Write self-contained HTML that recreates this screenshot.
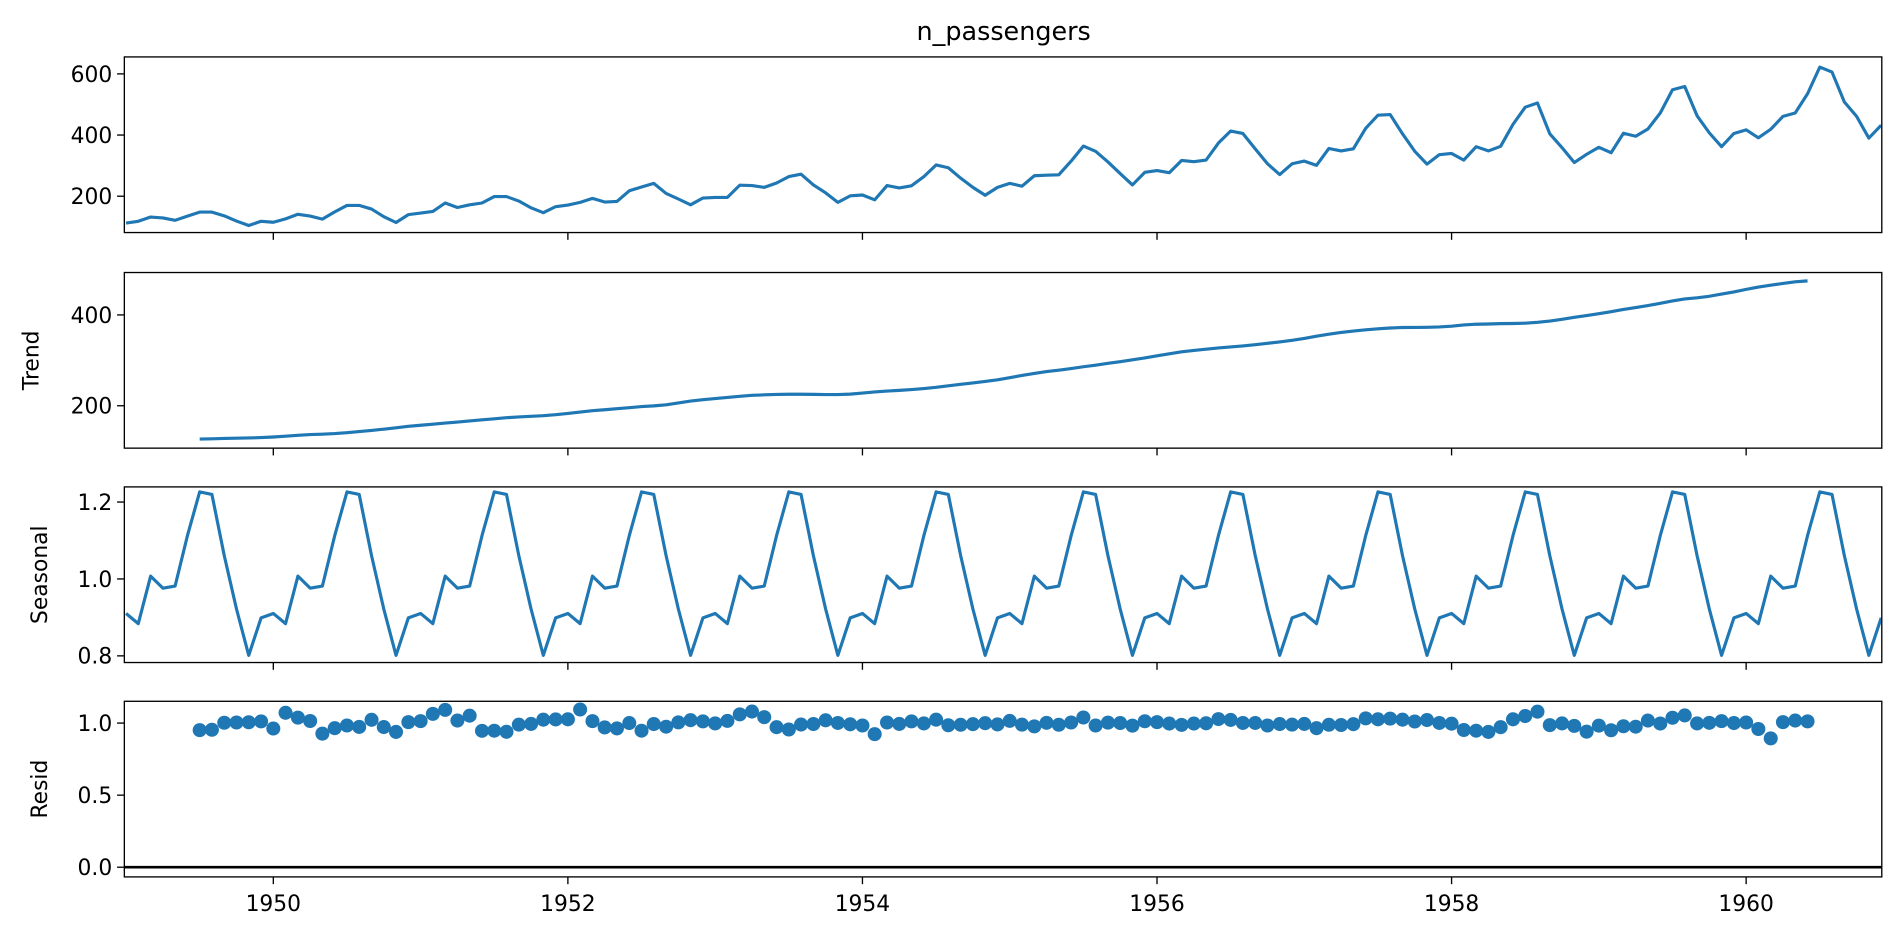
<!DOCTYPE html>
<html><head><meta charset="utf-8"><style>
html,body{margin:0;padding:0;background:#fff;overflow:hidden;}
svg text{font-family:"DejaVu Sans","Liberation Sans",sans-serif;font-size:18px;fill:#000;}
</style></head><body>
<svg width="1900" height="942" xmlns="http://www.w3.org/2000/svg"><g id="s" transform="translate(0.8,0) scale(1.2112)"></g></svg>
<script>
const D=[112,118,132,129,121,135,148,148,136,119,104,118,115,126,141,135,125,149,170,170,158,133,114,140,145,150,178,163,172,178,199,199,184,162,146,166,171,180,193,181,183,218,230,242,209,191,172,194,196,196,236,235,229,243,264,272,237,211,180,201,204,188,235,227,234,264,302,293,259,229,203,229,242,233,267,269,270,315,364,347,312,274,237,278,284,277,317,313,318,374,413,405,355,306,271,306,315,301,356,348,355,422,465,467,404,347,305,336,340,318,362,348,363,435,491,505,404,359,310,337,360,342,406,396,420,472,548,559,463,407,362,405,417,391,419,461,472,535,622,606,508,461,390,432];
const N=D.length,T=[],S=[],R=[];
for(let i=0;i<N;i++){if(i<6||i>N-7){T.push(null);continue;}let s=D[i-6]/2+D[i+6]/2;for(let k=-5;k<=5;k++)s+=D[i+k];T.push(s/12);}
const m=new Array(12).fill(0),c=new Array(12).fill(0);
for(let i=0;i<N;i++)if(T[i]){m[i%12]+=D[i]/T[i];c[i%12]++;}
for(let k=0;k<12;k++)m[k]/=c[k];const mm=m.reduce((a,b)=>a+b)/12;for(let k=0;k<12;k++)m[k]/=mm;
for(let i=0;i<N;i++){S.push(m[i%12]);R.push(T[i]?D[i]/(T[i]*m[i%12]):null);}
const X=i=>103.4+(i/12)*121.6;
const L=102,Rr=1553;
const P=[{t:47,b:192,f:v=>162-(v-200)*0.2525,ticks:[[200,"200"],[400,"400"],[600,"600"]],d:D,lab:""},
{t:225,b:370,f:v=>335-(v-200)*0.375,ticks:[[200,"200"],[400,"400"]],d:T,lab:"Trend",lx:31},
{t:402,b:547,f:v=>478-(v-1)*317.5,ticks:[[0.8,"0.8"],[1.0,"1.0"],[1.2,"1.2"]],d:S,lab:"Seasonal",lx:38},
{t:579,b:724,f:v=>716-v*119,ticks:[[0,"0.0"],[0.5,"0.5"],[1,"1.0"]],d:R,lab:"Resid",pts:1,lx:38}];
let h='<text x="828" y="33" text-anchor="middle" style="font-size:21px">n_passengers</text>';
P.forEach((p,pi)=>{
 h+=`<clipPath id="c${pi}"><rect x="${L}" y="${p.t}" width="${Rr-L}" height="${p.b-p.t}"/></clipPath>`;
 if(p.pts){h+=`<line x1="${L}" x2="${Rr}" y1="${p.f(0)}" y2="${p.f(0)}" stroke="#000" stroke-width="2.2"/>`;
  let g='';p.d.forEach((v,i)=>{if(v!=null)g+=`<circle cx="${X(i).toFixed(1)}" cy="${p.f(v).toFixed(1)}" r="5.8" fill="#1f77b4"/>`;});h+=`<g clip-path="url(#c${pi})">${g}</g>`;}
 else{let pts=[];p.d.forEach((v,i)=>{if(v!=null)pts.push(X(i).toFixed(1)+","+p.f(v).toFixed(1));});
  h+=`<polyline clip-path="url(#c${pi})" points="${pts.join(" ")}" fill="none" stroke="#1f77b4" stroke-width="2.6" stroke-linejoin="round"/>`;}
 h+=`<rect x="${L}" y="${p.t}" width="${Rr-L}" height="${p.b-p.t}" fill="none" stroke="#000" stroke-width="1.1"/>`;
 p.ticks.forEach(([v,s])=>{const y=p.f(v);h+=`<line x1="${L-6}" x2="${L}" y1="${y}" y2="${y}" stroke="#000" stroke-width="1.1"/><text x="${L-10}" y="${y+6.5}" text-anchor="end">${s}</text>`;});
 for(let yr=1950;yr<=1960;yr+=2){const x=225+(yr-1950)*121.6;h+=`<line x1="${x}" x2="${x}" y1="${p.b}" y2="${p.b+6}" stroke="#000" stroke-width="1.1"/>`;if(pi==3)h+=`<text x="${x}" y="${p.b+28}" text-anchor="middle">${yr}</text>`;}
 if(p.lab){const cy=(p.t+p.b)/2;h+=`<text transform="translate(${p.lx},${cy}) rotate(-90)" text-anchor="middle">${p.lab}</text>`;}
});
document.getElementById('s').innerHTML=h;
</script>
</body></html>
